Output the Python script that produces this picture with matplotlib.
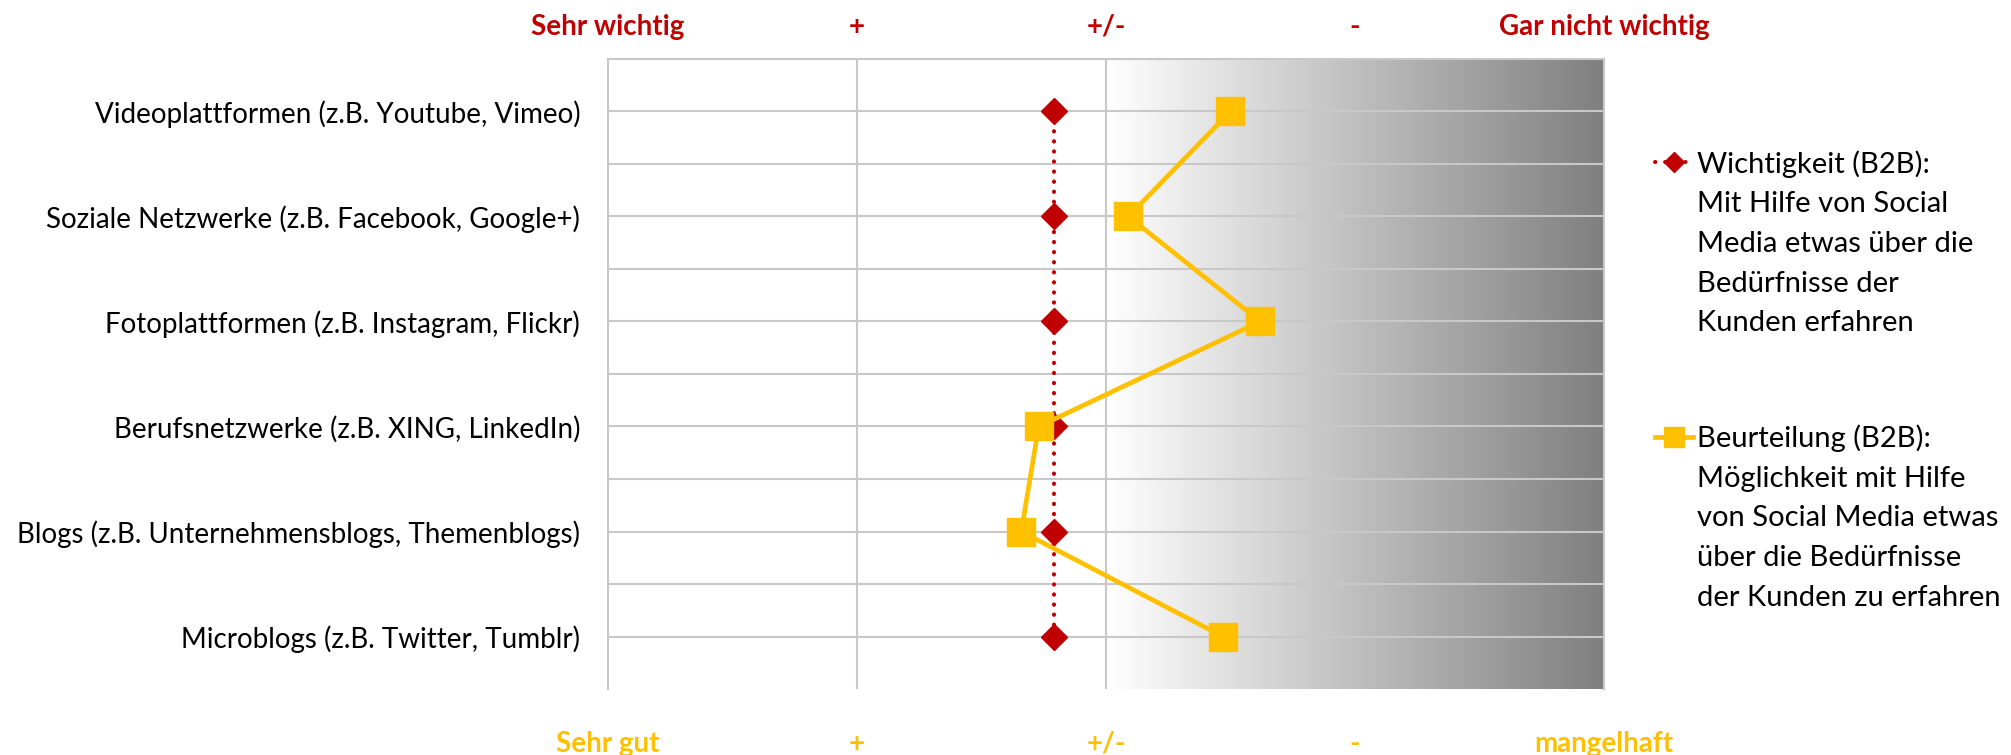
import matplotlib.pyplot as plt
import numpy as np
from matplotlib.colors import LinearSegmentedColormap

plt.rcParams['font.family'] = ['Lato', 'DejaVu Sans']

# data (1 = sehr wichtig / sehr gut ... 5 = gar nicht wichtig / mangelhaft)
categories = [
    "Videoplattformen (z.B. Youtube, Vimeo)",
    "Soziale Netzwerke (z.B. Facebook, Google+)",
    "Fotoplattformen (z.B. Instagram, Flickr)",
    "Berufsnetzwerke (z.B. XING, LinkedIn)",
    "Blogs (z.B. Unternehmensblogs, Themenblogs)",
    "Microblogs (z.B. Twitter, Tumblr)",
]
wichtigkeit = [2.79, 2.79, 2.79, 2.79, 2.79, 2.79]
beurteilung = [3.50, 3.09, 3.62, 2.73, 2.66, 3.47]

top_labels = ["Sehr wichtig", "+", "+/-", "-", "Gar nicht wichtig"]
bottom_labels = ["Sehr gut", "+", "+/-", "-", "mangelhaft"]

label_w = "Wichtigkeit (B2B):\nMit Hilfe von Social\nMedia etwas über die\nBedürfnisse der\nKunden erfahren"
label_b = "Beurteilung (B2B):\nMöglichkeit mit Hilfe\nvon Social Media etwas\nüber die Bedürfnisse\nder Kunden zu erfahren"

red = "#C00000"
yellow = "#FFC000"
grid_col = "#c8c8c8"

fig = plt.figure(figsize=(20.11, 7.55), dpi=100)
ax = fig.add_axes([0.3023, 0.0874, 0.4953, 0.8345])

y = np.arange(1, len(categories) + 1)

# grey gradient on the right half
cmap = LinearSegmentedColormap.from_list("grad", ["#ffffff", "#7f7f7f"])
ax.imshow(np.linspace(0, 1, 256).reshape(1, -1), extent=[3, 5, 6.5, 0.5],
          cmap=cmap, aspect="auto", zorder=0)

l1, = ax.plot(wichtigkeit, y, color=red, lw=2.9, linestyle=(0, (0.1, 2.4)),
              dash_capstyle="round", marker="D", ms=13.5, zorder=3)
l2, = ax.plot(beurteilung, y, color=yellow, lw=3.4, marker="s", ms=19.5, zorder=4)

ax.set_xlim(1, 5)
ax.set_ylim(6.5, 0.5)

ax.set_yticks(y)
ax.set_yticklabels(categories)
ax.set_yticks(np.arange(1.5, 6, 1), minor=True)
ax.tick_params(axis="y", which="both", length=0, pad=20, labelsize=20)

ax.set_xticks([1, 2, 3, 4, 5])
ax.set_xticklabels(bottom_labels, color=yellow, fontweight="bold")
ax.xaxis.remove_overlapping_locs = False
ax.set_xticks([2, 3], minor=True)
ax.tick_params(axis="x", which="both", length=0, pad=30, labelsize=20)

ax.set_axisbelow(True)
ax.grid(axis="y", which="both", color=grid_col, lw=1.5)
ax.grid(axis="x", which="minor", color=grid_col, lw=1.5)

for s in ["left", "top", "right"]:
    ax.spines[s].set_color(grid_col)
    ax.spines[s].set_linewidth(1.5)
ax.spines["bottom"].set_visible(False)

sec = ax.secondary_xaxis("top")
sec.set_xticks([1, 2, 3, 4, 5])
sec.set_xticklabels(top_labels, color=red, fontweight="bold")
sec.tick_params(length=0, pad=14, labelsize=20)
sec.spines["top"].set_visible(False)

leg = ax.legend([l1, l2], [label_w, label_b], loc="upper left",
                bbox_to_anchor=(1655 / 2011, 1 - 150 / 755), bbox_transform=fig.transFigure,
                frameon=False, fontsize=21, handlelength=1.3, handleheight=1.2,
                handletextpad=0.15, labelspacing=3.03, markerscale=0.75,
                borderpad=0, borderaxespad=0)
for t in leg.get_texts():
    t.set_linespacing(1.65)
for col in leg._legend_handle_box.get_children():
    for row in col.get_children():
        row.align = "top"

fig.savefig("out.png", dpi=100)
